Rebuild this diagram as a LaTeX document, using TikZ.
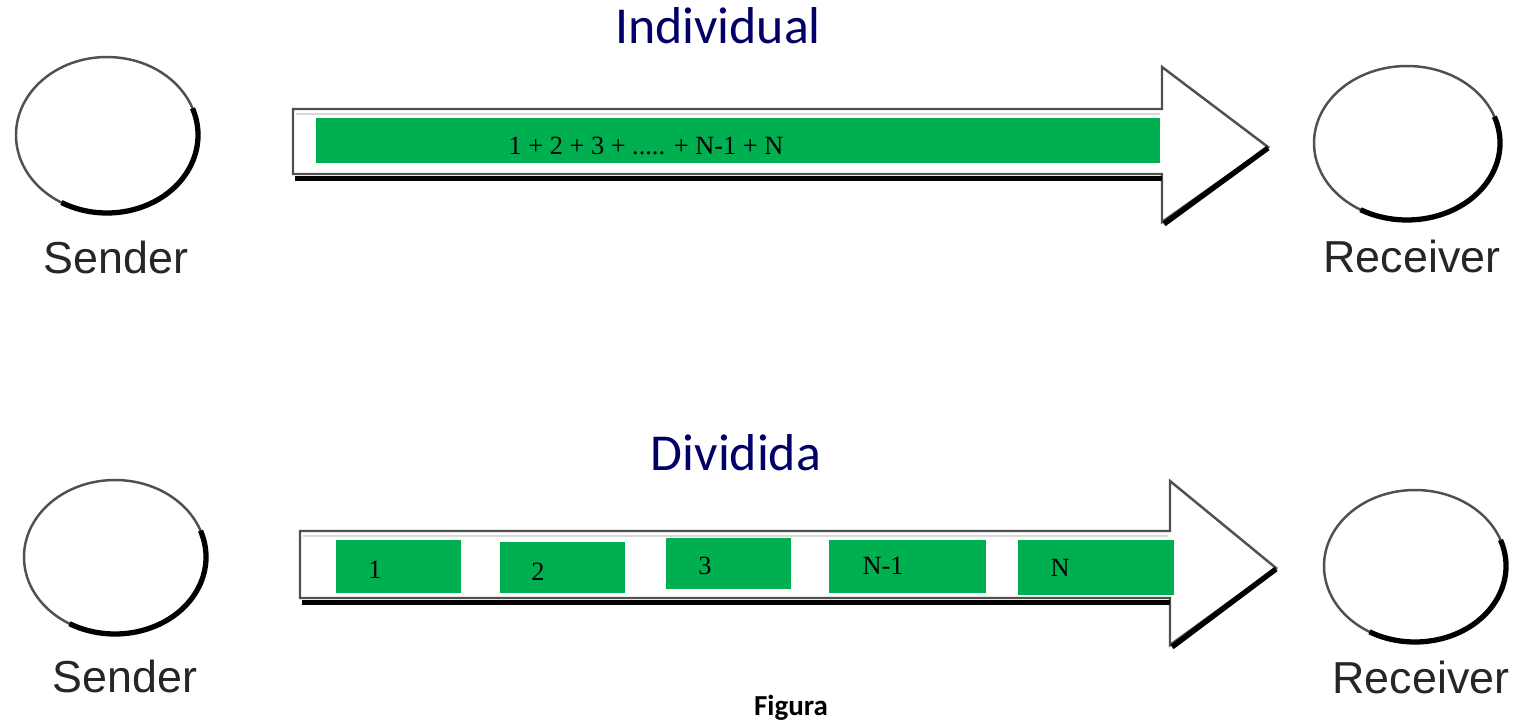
\documentclass[tikz,border=0pt]{standalone}
\usepackage{fontspec}
\setmainfont{Carlito}
\newfontfamily\labelfont{Liberation Sans}
\newfontfamily\numfont{Liberation Serif}

\definecolor{pktgreen}{RGB}{0,176,80}
\definecolor{headblue}{RGB}{0,0,102}
\definecolor{edgegray}{RGB}{80,80,80}

\tikzset{
  pkt/.style={fill=pktgreen},
  pkttext/.style={font=\numfont\fontsize{15}{18}\selectfont,text=black,anchor=center},
  ring/.style={draw=edgegray,line width=1.4pt},
  ringshadow/.style={draw=black,line width=3pt},
  pipe/.style={draw=edgegray,line width=1.4pt,fill=white,line join=miter},
  pipeshadow/.style={draw=black,line width=3pt},
  pipeband/.style={draw=black!15,line width=1.6pt},
  station/.style={font=\labelfont\fontsize{25.5}{30}\selectfont,text=black!85,anchor=base},
  heading/.style={font=\fontsize{29.5}{35}\selectfont,text=headblue,anchor=base}
}

\begin{document}
\begin{tikzpicture}[x=0.02cm,y=-0.02cm]
\useasboundingbox (0,0) rectangle (1520,725);

% headings
\node[heading] (ttl1) at (718,43) {Individual};
\node[heading] (ttl2) at (736,470) {Dividida};
\node[font=\bfseries\fontsize{16.5}{20}\selectfont,anchor=base] (cap) at (791,715) {Figura};

% end points: ellipse + shadow on the lower right
\coordinate (snd1) at (107,135);
\coordinate (rcv1) at (1407,143);
\coordinate (snd2) at (115,557);
\coordinate (rcv2) at (1415,566);
\draw[ring] (snd1) ellipse [x radius=91, y radius=78];
\draw[ringshadow] (snd1) ++(-20:91 and 78) arc[start angle=-20, end angle=120, x radius=91, y radius=78];
\draw[ring] (rcv1) ellipse [x radius=93, y radius=77];
\draw[ringshadow] (rcv1) ++(-20:93 and 77) arc[start angle=-20, end angle=120, x radius=93, y radius=77];
\draw[ring] (snd2) ellipse [x radius=91, y radius=77];
\draw[ringshadow] (snd2) ++(-20:91 and 77) arc[start angle=-20, end angle=120, x radius=91, y radius=77];
\draw[ring] (rcv2) ellipse [x radius=91, y radius=76];
\draw[ringshadow] (rcv2) ++(-20:91 and 76) arc[start angle=-20, end angle=120, x radius=91, y radius=76];

\node[station] (snd1txt) at (116,273) {Sender};
\node[station] (rcv1txt) at (1412,272) {Receiver};
\node[station] (snd2txt) at (125,692) {Sender};
\node[station] (rcv2txt) at (1421,693) {Receiver};

% whole message in one piece
\draw[pipe] (293,109) -- (1162,109) -- (1162,67) -- (1268,147) -- (1162,222) -- (1162,174) -- (293,174) -- cycle;
\draw[pipeband] (296,114) -- (1160,114);
\draw[pipeshadow] (295,178.5) -- (1162,178.5);
\draw[pipeshadow] (1268,148) -- (1164,224);
\fill[pkt] (316,118) rectangle (1160,163);
\node[pkttext] (msg) at (646,146) {1 + 2 + 3 + ..... + N-1 + N};

% message split into parts
\draw[pipe] (300,531) -- (1170,531) -- (1170,481) -- (1276,568) -- (1170,645) -- (1170,598) -- (300,598) -- cycle;
\draw[pipeband] (303,536) -- (1168,536);
\draw[pipeshadow] (302,602.5) -- (1170,602.5);
\draw[pipeshadow] (1276,569) -- (1172,647);
\fill[pkt] (336,540) rectangle (461,593);
\fill[pkt] (500,542) rectangle (625,593);
\fill[pkt] (666,538) rectangle (791,589);
\fill[pkt] (829,540) rectangle (986,593);
\fill[pkt] (1018,540) rectangle (1174,595);
\node[pkttext] (p1) at (375,570) {1};
\node[pkttext] (p2) at (538,572) {2};
\node[pkttext] (p3) at (705,566) {3};
\node[pkttext] (p4) at (883,566) {N-1};
\node[pkttext] (p5) at (1060,568) {N};

\end{tikzpicture}
\end{document}
